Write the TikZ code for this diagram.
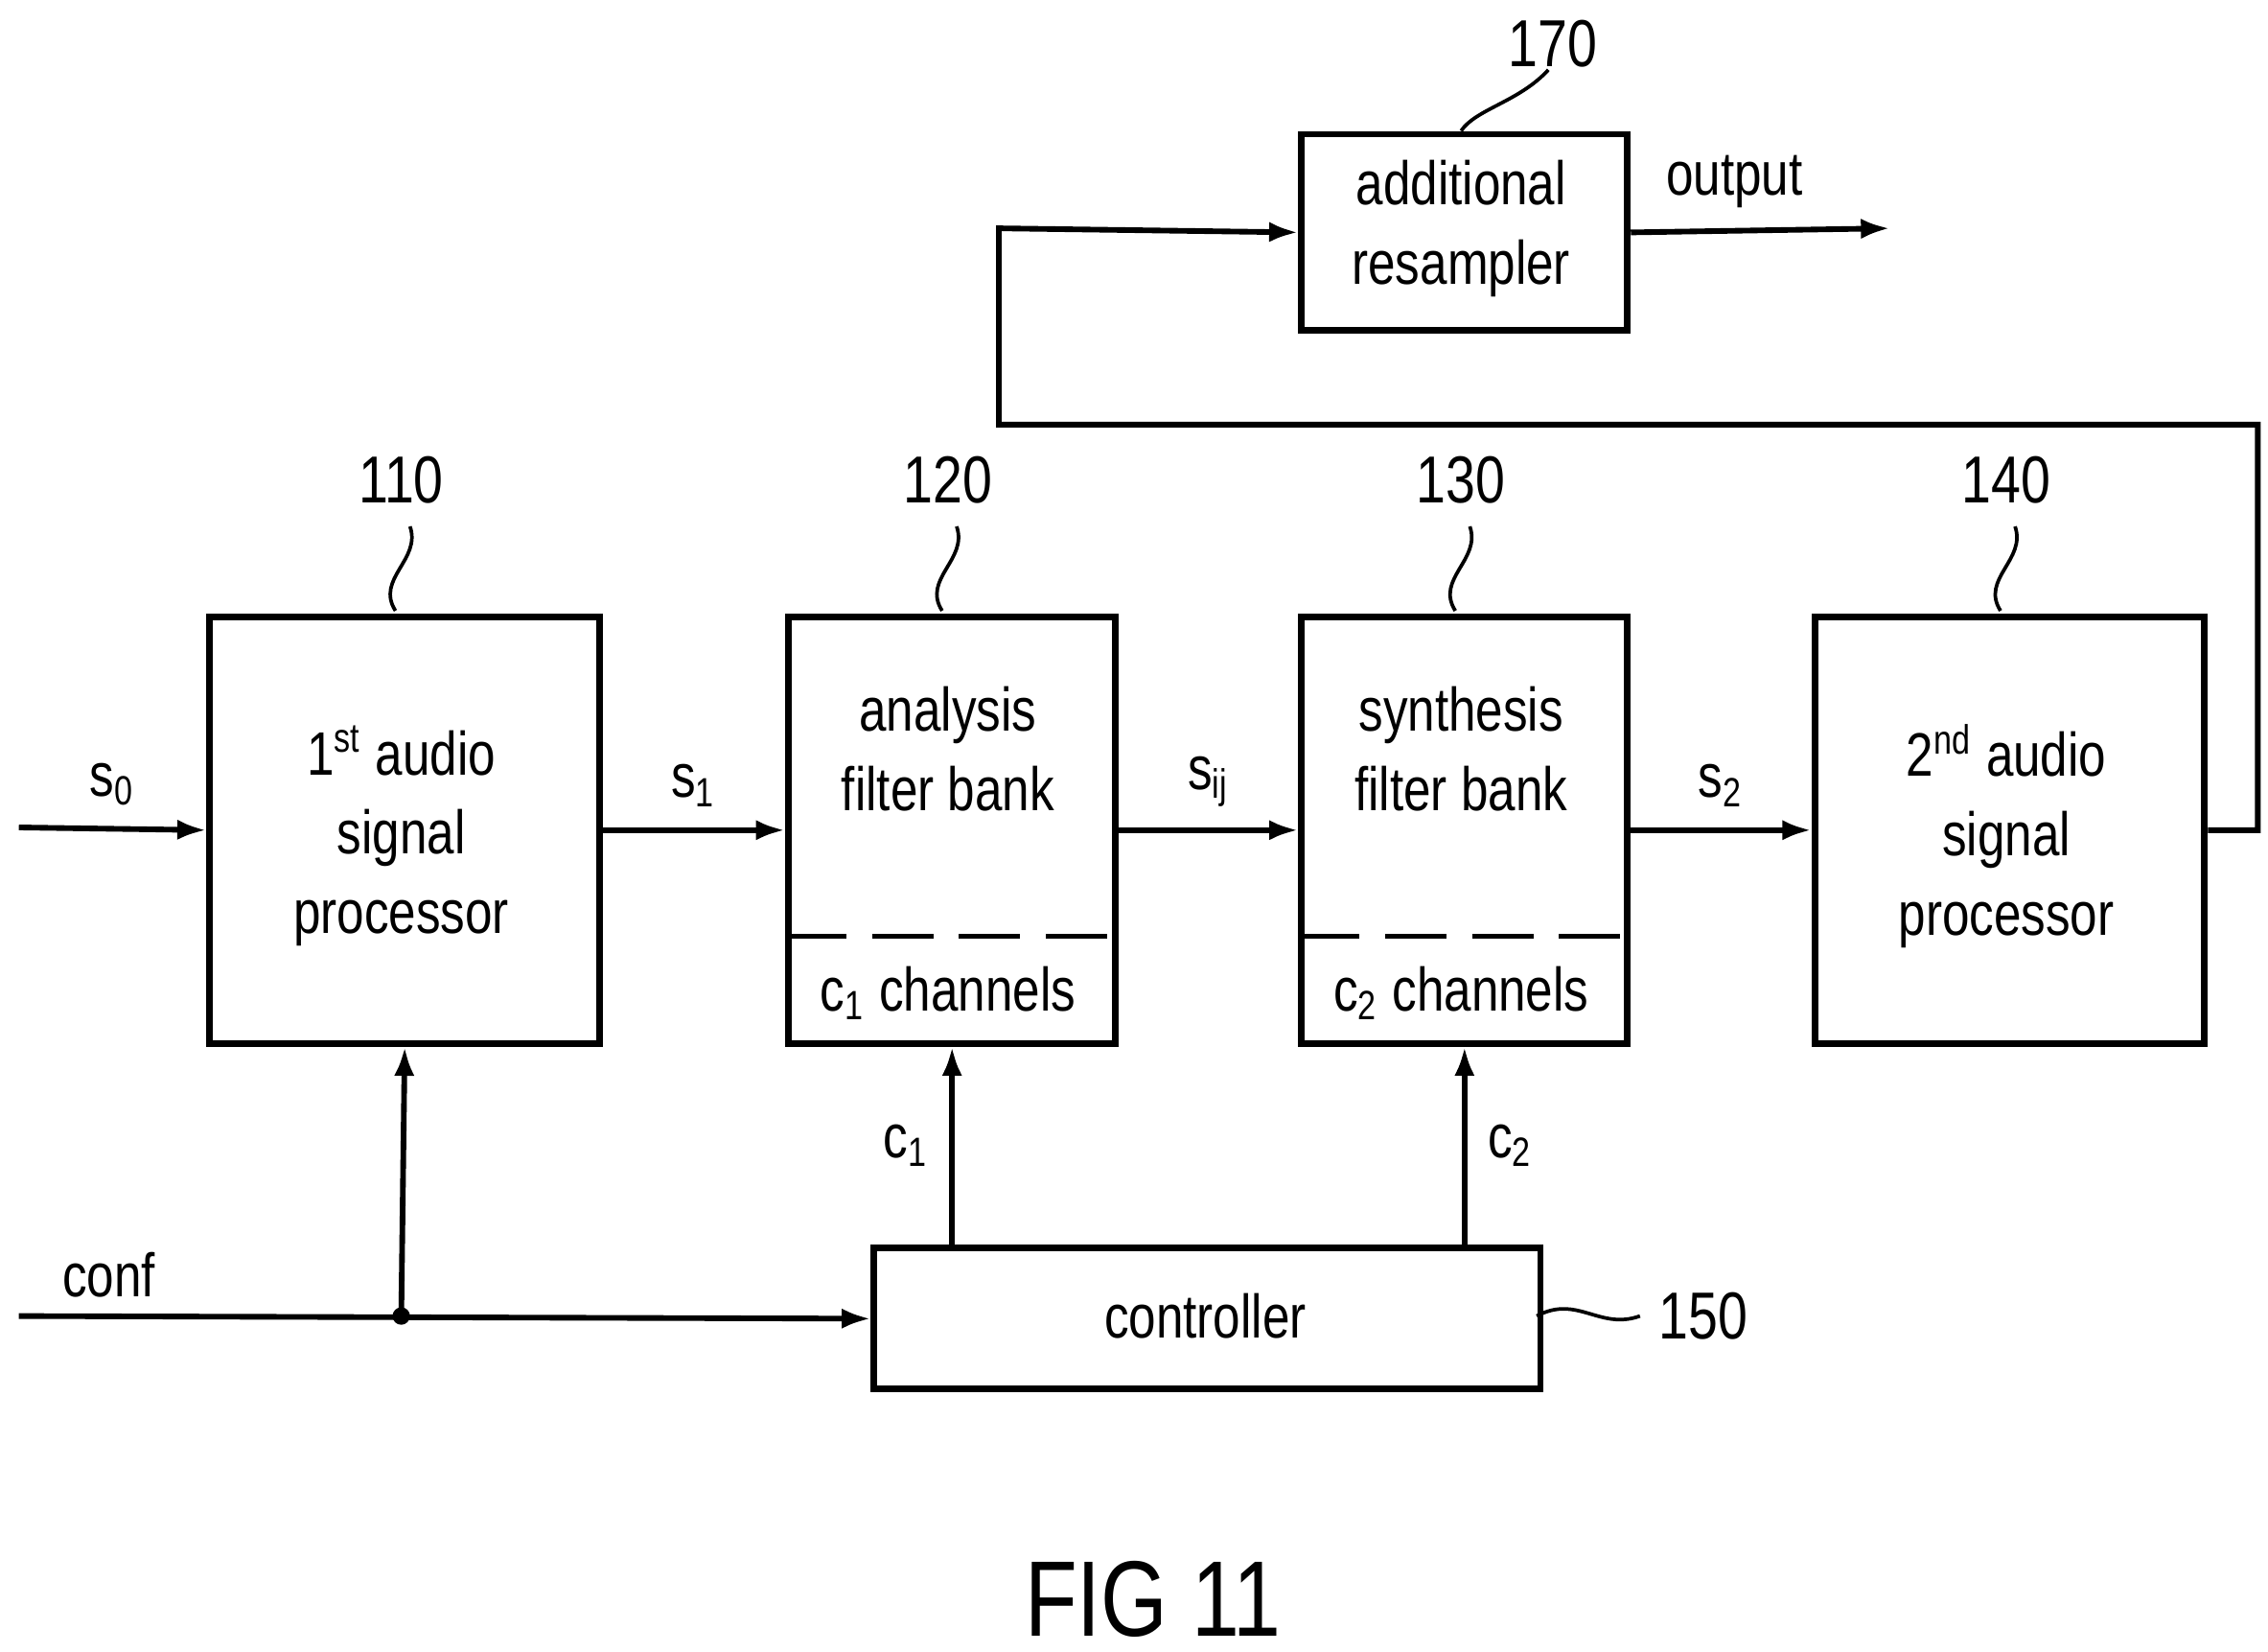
\documentclass[tikz,border=0pt]{standalone}
\usepackage{fontspec}
\setmainfont{Liberation Sans}[FakeStretch=0.8]
\usetikzlibrary{arrows.meta}
\begin{document}
\begin{tikzpicture}[x=0.01cm,y=-0.01cm,line width=1.1pt,
  blk/.style={draw,line width=1.3pt,anchor=north west,inner sep=0pt},
  sig/.style={-{Latex[length=0.2cm,width=0.14cm]}},
  lbl/.style={font=\fontsize{12}{14.5}\selectfont},
  ref/.style={font=\fontsize{13}{15}\selectfont},
  wig/.style={line width=0.7pt}]
  \useasboundingbox (0,0) rectangle (1560,1136);
  \fontsize{12}{14.5}\selectfont

  % Blocks
  \node[blk,minimum width=2.68cm,minimum height=2.93cm] (p1) at (142,422) {};
  \node[blk,minimum width=2.25cm,minimum height=2.93cm] (afb) at (540,422) {};
  \node[blk,minimum width=2.24cm,minimum height=2.93cm] (sfb) at (893,422) {};
  \node[blk,minimum width=2.68cm,minimum height=2.93cm] (p2) at (1246,422) {};
  \node[blk,minimum width=2.24cm,minimum height=1.35cm] (res) at (893,90) {};
  \node[blk,minimum width=4.58cm,minimum height=0.97cm] (ctl) at (599,856) {};

  % Block texts
  \node[lbl,align=center] (t1) at (276,575) {1\textsuperscript{st} audio\\[1pt]signal\\[1pt]processor};
  \node[lbl,align=center] (t2) at (652,515) {analysis\\[1pt]filter bank};
  \node[lbl,align=center] (t3) at (1005,515) {synthesis\\[1pt]filter bank};
  \node[lbl,align=center] (t4) at (1380,575) {2\textsuperscript{nd} audio\\[1pt]signal\\[1pt]processor};
  \node[lbl,align=center] (t5) at (1005,157) {additional\\[1pt]resampler};
  \node[lbl] (t6) at (829,905) {controller};
  \node[lbl] (ch1) at (652,683) {c\textsubscript{1} channels};
  \node[lbl] (ch2) at (1005,683) {c\textsubscript{2} channels};

  % Dashed separators
  \draw[dashed,line width=0.9pt,dash pattern=on 12pt off 5pt] (540,644) -- (765,644);
  \draw[dashed,line width=0.9pt,dash pattern=on 12pt off 5pt] (893,644) -- (1117,644);

  % Signal path
  \coordinate (in0) at (13,569);
  \draw[sig] (in0) -- (p1.west) node[pos=0.5,above,lbl] {s\textsubscript{0}};
  \draw[sig] (p1.east) -- (p1.east -| afb.west) node[pos=0.5,above,lbl] {s\textsubscript{1}};
  \draw[sig] (p1.east -| afb.east) -- (p1.east -| sfb.west) node[pos=0.5,above,lbl] {s\textsubscript{ij}};
  \draw[sig] (p1.east -| sfb.east) -- (p2.west) node[pos=0.5,above,lbl] {s\textsubscript{2}};

  % Feedback to resampler
  \coordinate (out) at (1300,157);
  \draw[sig] (p2.east) -| (1553,292) -| (687,157) -- (res.west);
  \draw[sig] (res.east) -- (out) node[pos=0.4,above,lbl] {output};

  % Configuration
  \coordinate (cin) at (13,905);
  \coordinate (jn) at (276,905);
  \node[lbl] (conf) at (75,877) {conf};
  \draw[sig] (cin) -- (ctl.west);
  \fill (jn) circle (6);
  \draw[sig] (jn) -- (p1.south);
  \draw[sig] (ctl.north -| afb.south) -- (afb.south) node[pos=0.5,left,lbl] {c\textsubscript{1}};
  \draw[sig] (ctl.north -| sfb.south) -- (sfb.south) node[pos=0.5,right,lbl] {c\textsubscript{2}};

  % Reference numerals
  \node[ref] (n110) at (276,330) {110};
  \node[ref] (n120) at (652,330) {120};
  \node[ref] (n130) at (1005,330) {130};
  \node[ref] (n140) at (1380,330) {140};
  \node[ref] (n170) at (1068,30) {170};
  \node[ref,anchor=west] (n150) at (1125,905) {150};
  \foreach \x/\y in {272/420,648/420,1001/420,1376/420}
    \draw[wig] (\x,\y) .. controls (\x-14,\y-22) and (\x+18,\y-35) .. (\x+10,\y-58);
  \draw[wig] (1005,90) .. controls (1015,75) and (1045,70) .. (1065,48);
  \draw[wig] (1057,905) .. controls (1085,890) and (1100,915) .. (1128,905);

  % Caption
  \node[font=\fontsize{21}{24}\selectfont] (fig) at (793,1100) {FIG 11};
\end{tikzpicture}
\end{document}
